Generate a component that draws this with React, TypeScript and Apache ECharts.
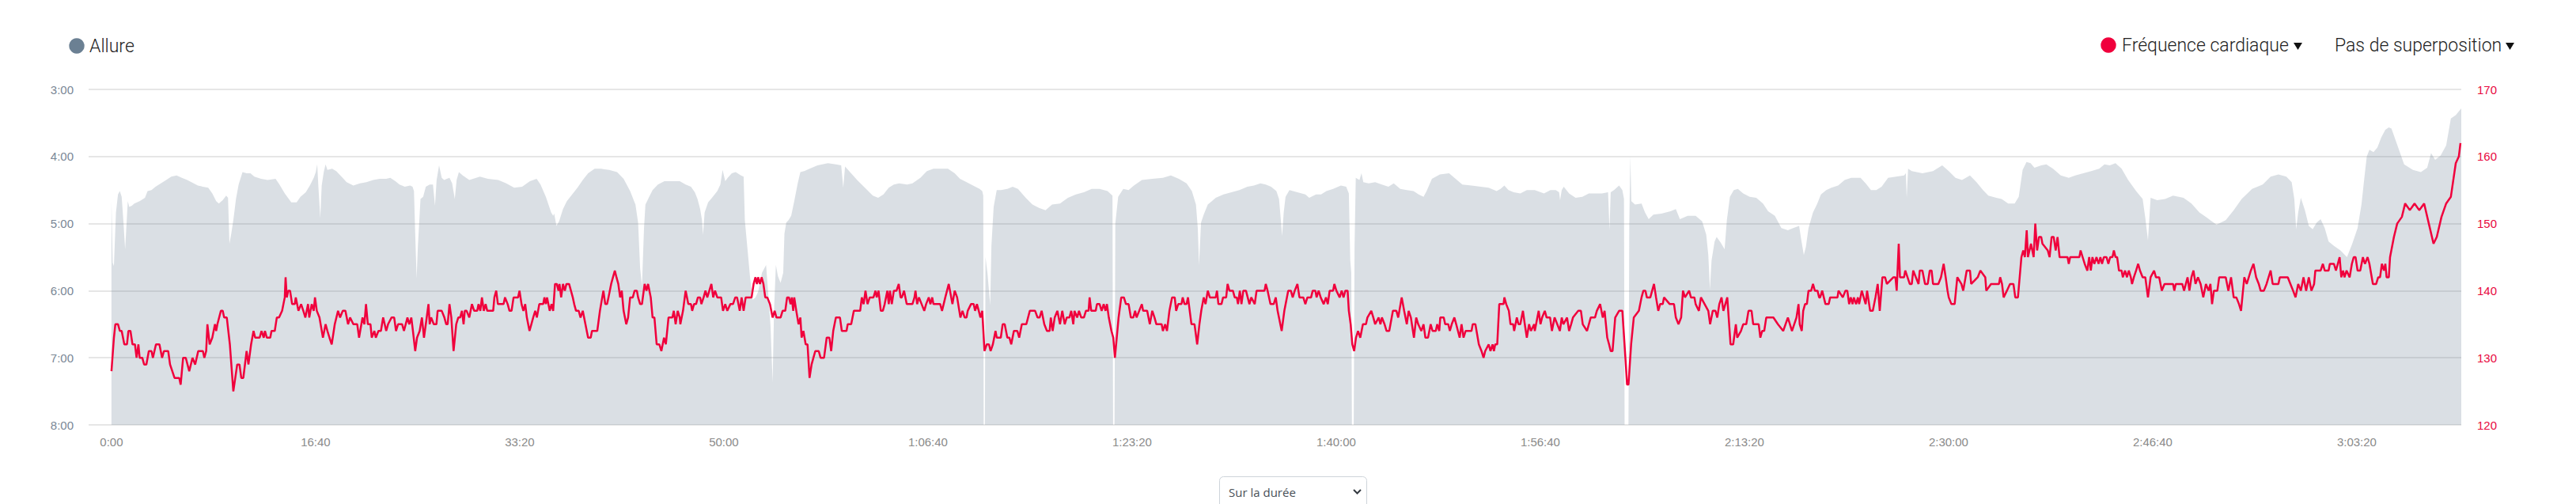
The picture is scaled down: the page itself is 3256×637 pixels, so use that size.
import React, { useEffect, useRef } from "react";
import * as echarts from "echarts";

// ---- x axis tick values (seconds) ----
const xTicks = [0, 1000, 2000, 3000, 4000, 5000, 6000, 7000, 8000, 9000, 10000, 11000];

// ---- pace (seconds per km) : [time s, pace s] ----
const pace: number[][] = [
  [0,280],[6,335],[12,338],[22,290],[32,274],[41,271],[50,276],[58,297],[67,323],[74,300],[80,280],[87,285],[100,284],[112,282],[138,280],[164,277],[177,271],[196,270],[216,267],[242,264],[268,261],[293,258],[319,257],[345,259],[371,261],[403,264],[423,266],[448,267],[474,268],[494,273],[513,280],[526,282],[545,279],[562,275],[571,277],[578,318],[587,309],[597,297],[610,278],[623,265],[642,254],[662,255],[681,255],[700,258],[733,260],[765,261],[804,260],[823,265],[849,273],[881,281],[907,281],[926,276],[952,272],[972,266],[991,259],[1001,254],[1008,247],[1014,268],[1023,295],[1030,266],[1040,254],[1049,247],[1058,252],[1081,251],[1101,253],[1127,258],[1152,263],[1185,266],[1217,264],[1249,263],[1282,261],[1314,260],[1346,260],[1366,259],[1391,262],
  [1411,265],[1437,267],[1463,266],[1475,267],[1482,271],[1488,309],[1495,349],[1501,321],[1514,278],[1527,276],[1540,267],[1559,265],[1575,265],[1585,284],[1593,261],[1605,248],[1618,259],[1630,261],[1643,260],[1656,259],[1669,264],[1682,278],[1691,261],[1702,254],[1721,257],[1753,261],[1805,258],[1844,260],[1895,261],[1934,264],[1973,268],[2012,267],[2050,262],[2083,260],[2102,265],[2128,276],[2154,290],[2164,293],[2169,291],[2180,302],[2193,298],[2212,287],[2231,280],[2257,274],[2283,268],[2309,261],[2335,255],[2367,251],[2399,251],[2438,252],[2477,254],[2509,260],[2541,271],[2567,283],[2580,299],[2590,340],[2599,356],[2609,304],[2616,283],[2632,277],[2651,270],[2677,265],[2709,262],[2748,262],[2784,262],
  [2813,265],[2839,267],[2858,272],[2871,278],[2884,287],[2893,297],[2898,310],[2906,290],[2923,281],[2942,277],[2968,271],[2983,265],[2994,252],[3007,262],[3019,259],[3039,255],[3058,254],[3084,257],[3097,258],[3103,297],[3116,323],[3129,349],[3142,368],[3155,366],[3168,361],[3187,344],[3207,337],[3220,368],[3229,392],[3239,442],[3246,378],[3255,337],[3265,347],[3278,353],[3291,344],[3297,309],[3306,299],[3317,297],[3330,293],[3345,280],[3362,264],[3375,254],[3394,253],[3420,251],[3459,248],[3510,246],[3549,247],[3575,248],[3585,268],[3594,249],[3614,253],[3653,261],[3691,268],[3730,275],[3756,277],[3782,274],[3808,268],[3833,265],[3859,264],[3898,265],[3924,264],[3963,259],[3995,253],[4027,251],[4066,251],[4098,251],[4131,255],[4157,260],[4180,262],
  [4221,266],[4253,269],[4266,271],[4271,275],[4273,480],[4279,480],[4282,330],[4292,345],[4305,373],[4311,320],[4322,285],[4337,270],[4357,270],[4389,269],[4415,267],[4441,269],[4479,277],[4512,283],[4544,286],[4576,288],[4608,283],[4647,282],[4686,277],[4725,274],[4764,272],[4802,269],[4841,269],[4880,271],[4904,275],[4907,480],[4914,480],[4918,300],[4932,276],[4957,269],[4983,270],[5009,266],[5048,261],[5099,260],[5151,259],[5190,257],[5229,260],[5267,264],[5293,271],[5313,283],[5322,304],[5328,337],[5338,299],[5351,292],[5371,283],[5410,277],[5448,274],[5487,272],[5526,270],[5565,267],
  [5597,266],[5629,264],[5655,265],[5681,267],[5707,271],[5720,278],[5729,297],[5735,311],[5743,290],[5752,276],[5771,270],[5810,272],[5849,274],[5868,277],[5901,274],[5926,274],[5952,271],[5985,269],[6023,266],[6049,267],[6062,273],[6069,333],[6074,344],[6077,480],[6086,480],[6090,321],[6096,259],[6114,261],[6124,255],[6133,263],[6159,264],[6191,263],[6224,265],[6256,267],[6282,264],[6314,269],[6346,270],[6379,271],[6404,274],[6428,276],[6443,271],[6469,260],[6508,256],[6553,255],[6585,260],[6618,265],[6663,266],[6708,267],[6747,268],[6786,271],[6805,269],[6824,266],[6844,270],[6870,272],[6902,273],[6934,270],
  [6973,270],[7018,273],[7050,270],[7076,270],[7092,272],[7097,279],[7105,270],[7115,267],[7141,273],[7173,277],[7206,276],[7238,273],[7270,273],[7302,273],[7332,272],[7339,306],[7345,272],[7361,270],[7386,266],[7402,270],[7410,278],[7413,480],[7432,480],[7436,300],[7441,240],[7446,280],[7464,283],[7496,282],[7513,290],[7531,296],[7554,292],[7593,291],[7638,289],[7664,287],[7684,296],[7722,293],[7761,293],[7793,298],[7813,310],[7823,328],[7831,359],[7839,333],[7854,316],[7864,312],[7884,317],[7903,323],[7914,297],[7929,276],[7948,270],[7968,269],[7994,273],[8026,276],[8058,277],[8091,282],[8116,289],[8149,293],[8181,304],[8213,306],[8239,304],[8268,302],[8278,314],[8291,328],[8301,321],[8314,304],[8336,290],[8355,283],
  [8375,274],[8401,270],[8426,268],[8459,266],[8491,261],[8523,259],[8569,259],[8594,264],[8620,270],[8646,270],[8672,267],[8704,259],[8743,258],[8782,257],[8791,255],[8795,277],[8802,251],[8820,253],[8872,255],[8924,253],[8969,248],[9001,253],[9034,259],[9066,261],[9105,257],[9137,263],[9169,270],[9195,275],[9234,277],[9260,278],[9292,282],[9324,282],[9344,276],[9363,252],[9382,245],[9402,246],[9421,250],[9454,248],[9479,247],[9512,251],[9550,257],[9589,259],[9621,257],[9660,255],[9699,253],[9738,251],
  [9764,247],[9790,248],[9818,246],[9848,251],[9880,261],[9919,271],[9951,278],[9964,295],[9977,315],[9990,277],[10022,279],[10061,278],[10100,275],[10151,277],[10190,282],[10229,290],[10268,295],[10313,301],[10358,297],[10397,288],[10436,278],[10487,269],[10539,265],[10578,258],[10616,256],[10655,258],[10681,263],[10694,278],[10703,305],[10713,290],[10726,277],[10746,288],[10765,302],[10784,305],[10804,299],[10823,296],[10843,304],[10862,316],[10888,320],[10920,324],[10952,330],[10978,318],[11004,304],[11023,283],[11036,261],[11049,240],[11062,234],[11082,236],[11101,232],[11120,223],[11140,216],[11157,214],
  [11170,215],[11232,247],[11275,252],[11314,254],[11345,250],[11364,237],[11384,243],[11411,239],[11438,230],[11461,206],[11485,203],[11512,197]
];

// ---- heart rate (bpm) : [time s, bpm] ----
const heartRate: number[][] = [
  [0,128],[12,133],[19,135],[32,135],[41,134],[50,134],[63,132],[76,132],[83,134],[93,134],[103,132],[115,132],[123,130],[132,132],[138,130],[151,130],[160,129],[171,129],[183,131],[196,131],[203,130],[218,132],[235,132],[248,130],[257,131],[278,131],[287,129],[309,127],[332,127],[339,126],[351,130],[364,130],[381,128],[397,130],[410,129],[425,131],[448,131],[455,130],[464,131],[470,135],[481,132],[494,133],[507,135],[513,134],[519,135],[536,137],[545,137],[552,136],[565,136],[580,132],[597,125],[616,129],[627,129],[636,127],[646,127],[662,131],[671,129],[684,132],[696,134],[704,133],[726,133],[735,134],[746,133],[752,134],[761,133],[778,133],[784,134],[800,134],[810,136],[821,136],[836,137],[849,139],[853,142],[859,139],[866,140],[875,140],[885,138],[898,138],[903,139],[916,137],[929,138],[940,137],[950,136],[963,138],[969,136],[981,138],[991,137],[997,139],[1006,137],[1019,136],[1036,133],[1049,135],[1058,134],[1068,133],[1079,132],[1094,135],[1110,137],[1120,136],[1133,137],[1146,137],[1159,135],[1169,136],[1185,135],[1204,135],[1213,133],[1230,136],[1239,135],[1247,138],[1256,135],[1269,135],[1275,133],[1288,134],[1295,133],[1308,134],[1320,134],[1331,136],[1346,134],[1355,135],[1372,136],[1385,136],
  [1394,134],[1404,135],[1424,135],[1433,134],[1450,136],[1459,135],[1469,136],[1477,134],[1488,131],[1497,133],[1510,134],[1521,136],[1531,133],[1540,135],[1553,138],[1559,135],[1566,136],[1579,135],[1592,135],[1598,137],[1618,137],[1631,136],[1640,135],[1647,135],[1656,138],[1665,136],[1676,131],[1689,135],[1699,136],[1708,136],[1717,137],[1725,135],[1731,137],[1740,137],[1753,136],[1766,138],[1777,137],[1792,137],[1798,138],[1807,137],[1815,139],[1824,137],[1833,138],[1841,137],[1870,137],[1876,139],[1885,140],[1893,138],[1921,138],[1928,139],[1941,138],[1950,137],[1960,137],[1970,139],[1992,139],[1999,140],[2009,138],[2018,137],[2027,138],[2035,136],[2048,134],[2057,135],[2066,136],[2076,137],[2084,136],[2096,138],[2115,138],[2121,139],[2128,138],[2134,139],[2147,137],[2156,138],[2164,137],[2173,141],[2182,141],[2190,140],[2195,141],[2203,139],[2212,141],[2221,140],[2229,141],[2242,141],[2251,140],[2260,139],[2267,138],[2276,137],[2289,137],[2298,136],[2309,137],[2322,135],[2335,133],[2348,133],[2354,134],[2380,134],[2393,137],[2410,140],[2419,138],[2428,138],[2435,139],[2448,141],[2457,142],[2466,143],[2474,142],[2483,141],[2492,139],[2500,140],[2509,137],[2522,135],[2531,136],[2541,139],[2554,139],[2563,140],[2574,140],[2580,139],[2590,138],[2599,138],[2612,141],[2621,140],[2629,141],[2642,139],[2651,136],[2660,136],[2671,132],[2684,132],[2694,131],[2707,133],[2716,132],[2729,136],[2748,136],[2755,137],[2764,135],[2774,137],[2784,136],
  [2787,135],[2800,137],[2813,140],[2826,138],[2839,138],[2845,137],[2854,138],[2864,138],[2873,139],[2884,139],[2890,138],[2901,139],[2910,140],[2919,139],[2929,140],[2939,141],[2948,139],[2957,140],[2968,139],[2987,139],[2996,137],[3007,138],[3017,137],[3032,138],[3045,138],[3056,139],[3065,139],[3078,137],[3087,139],[3097,137],[3107,139],[3136,139],[3146,141],[3155,142],[3162,141],[3168,142],[3177,141],[3185,142],[3194,141],[3203,139],[3213,139],[3226,138],[3239,136],[3249,137],[3258,136],[3278,136],[3288,137],[3301,137],[3310,139],[3319,139],[3327,138],[3333,139],[3340,137],[3345,139],[3355,137],[3366,135],[3375,136],[3381,133],[3390,134],[3401,132],[3410,132],[3420,127],[3430,129],[3439,130],[3448,131],[3465,131],[3474,130],[3491,130],[3504,133],[3517,133],[3526,131],[3536,134],[3549,136],[3569,136],[3578,134],[3601,134],[3607,135],[3624,135],[3637,137],[3668,137],[3676,139],[3685,138],[3694,140],[3704,138],[3715,139],[3733,139],[3743,140],[3749,139],[3758,140],[3769,137],[3779,137],[3788,138],[3801,140],[3808,138],[3814,140],[3823,138],[3833,140],[3846,140],[3857,141],[3866,139],[3872,139],[3883,140],[3896,138],[3924,138],[3934,139],[3939,140],[3947,138],[3956,139],[3969,138],[3982,137],[3991,138],[4004,139],[4012,138],[4021,139],[4027,138],[4060,138],[4069,137],[4085,139],[4102,141],[4120,138],[4131,140],[4143,139],[4159,136],[4169,137],[4180,136],
  [4189,136],[4195,137],[4211,138],[4224,138],[4231,137],[4240,138],[4249,137],[4257,136],[4266,137],[4277,131],[4288,132],[4299,132],[4307,131],[4318,132],[4331,134],[4337,133],[4357,133],[4366,135],[4376,135],[4389,133],[4399,133],[4408,132],[4421,134],[4438,134],[4447,133],[4460,135],[4482,135],[4499,137],[4525,137],[4537,136],[4547,136],[4557,137],[4570,135],[4583,134],[4596,134],[4602,136],[4611,134],[4621,136],[4634,137],[4647,135],[4658,137],[4670,135],[4680,136],[4693,136],[4702,137],[4712,135],[4718,137],[4731,136],[4740,137],[4751,136],[4764,136],[4774,137],[4787,137],[4792,139],[4800,137],[4822,137],[4828,138],[4841,138],[4851,137],[4861,138],[4870,137],[4877,138],[4886,136],[4899,134],[4908,133],[4916,130],[4925,133],[4934,136],[4947,139],[4960,139],[4970,138],[4983,138],[4994,136],[5006,136],[5015,137],[5022,136],[5035,137],[5048,138],[5054,137],[5074,137],[5087,135],[5099,137],[5110,136],[5119,135],[5145,135],[5151,134],[5162,135],[5171,134],[5183,137],[5196,139],[5209,139],[5216,137],[5226,138],[5242,138],[5248,139],[5257,138],[5267,138],[5274,139],[5291,135],[5306,135],[5319,132],[5330,135],[5339,137],[5351,139],[5360,138],[5371,140],[5381,139],[5410,139],[5416,140],[5423,138],[5438,138],[5446,139],[5461,139],[5468,141],[5477,140],[5494,140],[5503,139],[5513,139],[5519,138],[5528,140],[5536,138],[5545,140],[5558,140],[5575,138],
  [5584,139],[5601,138],[5610,140],[5649,140],[5655,141],[5664,140],[5678,138],[5694,138],[5704,139],[5713,137],[5733,134],[5746,137],[5765,140],[5778,140],[5787,139],[5797,140],[5810,141],[5820,139],[5839,139],[5849,138],[5859,139],[5877,139],[5885,140],[5898,140],[5904,139],[5914,140],[5924,139],[5939,138],[5950,139],[5959,138],[5968,140],[5985,140],[5991,141],[6001,140],[6017,139],[6027,140],[6036,139],[6045,140],[6056,140],[6062,137],[6071,135],[6079,132],[6088,131],[6097,133],[6107,134],[6118,133],[6131,135],[6146,135],[6153,136],[6172,137],[6182,136],[6191,135],[6208,136],[6217,135],[6224,136],[6237,135],[6247,134],[6260,134],[6278,137],[6295,137],[6304,136],[6321,139],[6333,137],[6346,135],[6355,137],[6366,136],[6381,133],[6392,136],[6402,135],[6417,134],[6428,135],[6437,133],[6450,133],[6463,135],[6472,134],[6488,134],[6495,135],[6505,134],[6510,136],[6527,136],[6534,135],[6549,135],[6557,134],[6566,135],[6579,136],[6588,135],[6605,133],[6614,135],[6624,133],[6634,134],[6663,134],[6669,135],[6682,135],[6699,132],[6712,131],[6722,130],[6730,131],[6747,132],[6756,131],[6766,132],[6773,131],[6779,132],[6789,132],[6799,138],[6820,138],[6824,139],[6833,138],[6846,137],[6854,135],[6867,135],[6872,134],[6885,136],[6893,135],[6902,135],[6915,137],[6924,135],[6934,133],[6945,135],[6954,134],[6970,135],
  [6973,134],[6992,137],[7001,135],[7009,136],[7022,137],[7031,136],[7048,136],[7057,134],[7070,136],[7096,134],[7105,136],[7113,135],[7131,136],[7141,134],[7151,135],[7160,136],[7186,137],[7199,137],[7208,135],[7229,134],[7247,136],[7268,136],[7277,137],[7293,138],[7306,136],[7315,137],[7328,133],[7337,132],[7345,131],[7354,131],[7367,136],[7386,137],[7402,137],[7419,129],[7425,126],[7432,126],[7445,132],[7458,136],[7483,137],[7496,139],[7505,140],[7515,140],[7522,139],[7539,139],[7548,140],[7557,141],[7567,139],[7578,137],[7587,138],[7600,138],[7606,139],[7634,138],[7655,138],[7664,136],[7677,135],[7690,136],[7699,140],[7709,139],[7729,140],[7738,139],[7755,139],[7761,138],[7777,137],[7787,139],[7823,137],[7832,135],[7845,137],[7858,137],[7867,136],[7877,138],[7888,139],[7897,137],[7916,139],[7932,132],[7945,132],[7958,135],[7965,133],[7983,134],[7994,135],[8009,135],[8020,137],[8035,137],[8043,135],[8070,135],[8078,133],[8087,134],[8097,134],[8107,136],[8142,136],[8164,135],[8190,134],[8213,136],[8233,134],[8255,136],[8265,138],[8271,135],[8281,134],[8288,137],[8297,138],[8306,138],[8314,140],[8327,140],[8336,141],[8345,140],[8358,140],[8366,139],
  [8371,139],[8381,140],[8397,138],[8413,138],[8420,139],[8433,139],[8456,139],[8461,140],[8482,139],[8495,140],[8504,140],[8513,138],[8521,139],[8530,138],[8536,139],[8547,138],[8556,139],[8562,138],[8575,140],[8594,138],[8601,140],[8616,137],[8629,137],[8642,139],[8653,141],[8663,137],[8676,142],[8689,142],[8698,141],[8730,142],[8740,142],[8746,140],[8756,147],[8762,142],[8782,142],[8788,143],[8810,141],[8820,141],[8827,143],[8853,141],[8859,143],[8872,143],[8885,141],[8898,141],[8908,143],[8917,143],[8924,141],[8950,141],[8963,142],[8976,144],[8986,142],[8995,140],[9001,139],[9014,138],[9030,138],[9043,142],[9063,141],[9072,140],[9089,143],[9105,143],[9111,141],[9143,142],[9156,143],[9180,142],[9185,140],[9208,141],[9247,141],[9253,142],[9262,141],[9270,139],[9286,140],[9301,141],[9318,141],[9327,139],[9340,139],[9357,145],[9366,146],[9374,145],[9383,149],[9389,145],[9404,147],[9417,145],[9425,150],[9434,146],[9443,148],[9454,148],[9460,147],[9486,146],[9495,145],[9505,148],[9515,148],[9525,146],[9534,148],[9544,145],[9583,145],[9589,144],[9596,145],[9641,145],[9647,146],[9657,145],[9667,144],[9680,143],[9689,145],[9697,143],[9705,145],[9714,144],[9725,145],[9735,144],[9744,145],[9752,144],[9761,145],
  [9774,145],[9783,144],[9792,145],[9803,145],[9810,146],[9818,145],[9826,145],[9835,143],[9848,143],[9854,142],[9865,143],[9874,142],[9883,143],[9893,142],[9899,141],[9908,142],[9919,143],[9929,144],[9938,143],[9951,142],[9964,142],[9977,139],[9990,142],[10007,143],[10016,142],[10032,142],[10045,140],[10058,141],[10100,141],[10106,140],[10113,141],[10145,141],[10154,140],[10171,142],[10180,140],[10190,142],[10200,143],[10210,141],[10222,142],[10235,141],[10248,139],[10261,141],[10274,140],[10283,141],[10291,138],[10300,140],[10317,140],[10326,142],[10358,142],[10371,140],[10384,142],[10397,139],[10410,139],[10423,138],[10433,137],[10449,142],[10461,141],[10481,143],[10494,144],[10507,142],[10520,141],[10529,140],[10545,140],[10558,141],[10578,143],[10588,141],[10616,141],[10623,142],[10662,142],[10675,141],[10688,140],[10700,139],[10713,141],[10726,140],[10739,142],[10752,140],[10765,142],[10778,140],[10791,141],[10797,143],[10823,143],[10834,144],[10843,143],[10862,143],[10868,144],[10888,144],[10898,143],[10907,144],[10916,145],[10924,142],[10933,143],[10940,142],[10950,143],[10965,142],[10976,144],[10985,145],[10994,145],[11004,143],[11017,143],[11030,145],[11040,144],[11053,145],[11062,144],[11079,141],[11095,141],[11105,142],[11114,142],[11123,144],[11133,143],[11140,144],[11146,142],[11157,142],
  [11163,145],[11182,148],[11198,150],[11221,151],[11237,153],[11260,152],[11283,153],[11306,152],[11330,153],[11353,150],[11376,147],[11392,148],[11415,151],[11438,153],[11461,154],[11485,159],[11500,160],[11508,162]
];

const PACE_COLOR = "#6b8093";
const HR_COLOR = "#f0003c";

function pad2(n: number) {
  return String(n).padStart(2, "0");
}
function fmtDuration(v: number) {
  const h = Math.floor(v / 3600);
  const m = Math.floor((v % 3600) / 60);
  const s = Math.round(v % 60);
  if (h > 0) return `${h}:${pad2(m)}:${pad2(s)}`;
  return `${m}:${pad2(s)}`;
}
function fmtPace(v: number) {
  return `${Math.floor(v / 60)}:${pad2(Math.round(v % 60))}`;
}

export default function App() {
  const ref = useRef<HTMLDivElement>(null);
  useEffect(() => {
    if (!ref.current) return;
    const chart = echarts.init(ref.current, undefined, { renderer: "svg" });
    const legendFont = '300 23px Roboto, "Open Sans", sans-serif';
    chart.setOption({
      animation: false,
      grid: { left: 112, right: 145, top: 113, bottom: 100 },
      xAxis: {
        type: "value",
        min: -112,
        max: 11512,
        axisLine: { show: false },
        axisTick: { show: false },
        splitLine: { show: false },
        axisLabel: {
          customValues: xTicks,
          formatter: (v: number) => fmtDuration(v),
          color: "#8a8a8a",
          fontSize: 15,
          fontFamily: '"Liberation Sans", Arial, sans-serif',
          margin: 14,
        },
      },
      yAxis: [
        {
          type: "value",
          inverse: true,
          min: 180,
          max: 480,
          interval: 60,
          position: "left",
          axisLine: { show: false },
          axisTick: { show: false },
          axisLabel: {
            formatter: (v: number) => fmtPace(v),
            color: "#7a8796",
            fontSize: 15,
            fontFamily: '"Liberation Sans", Arial, sans-serif',
            margin: 19,
          },
          splitLine: { show: true, lineStyle: { color: "#e6e6e6", width: 2 } },
        },
        {
          type: "value",
          min: 120,
          max: 170,
          interval: 10,
          position: "right",
          axisLine: { show: false },
          axisTick: { show: false },
          axisLabel: {
            color: "#e8083e",
            fontSize: 15,
            fontFamily: '"Liberation Sans", Arial, sans-serif',
            margin: 20,
          },
          splitLine: { show: false },
        },
      ],
      series: [
        {
          name: "Allure",
          type: "line",
          yAxisIndex: 0,
          data: pace,
          showSymbol: false,
          symbol: "none",
          lineStyle: { width: 0, opacity: 0 },
          areaStyle: { color: PACE_COLOR, opacity: 0.25, origin: "end" },
          z: 1,
        },
        {
          name: "Fréquence cardiaque",
          type: "line",
          yAxisIndex: 1,
          data: heartRate,
          showSymbol: false,
          symbol: "none",
          lineStyle: { color: HR_COLOR, width: 2.5 },
          z: 3,
        },
      ],
      graphic: [
        { type: "circle", shape: { cx: 97, cy: 58, r: 9.7 }, style: { fill: PACE_COLOR } },
        {
          type: "text",
          x: 113,
          y: 58,
          style: { text: "Allure", fill: "#222", font: legendFont, textVerticalAlign: "middle", verticalAlign: "middle" },
        },
        { type: "circle", shape: { cx: 2665, cy: 57, r: 9.7 }, style: { fill: HR_COLOR } },
        {
          type: "text",
          x: 2682,
          y: 57,
          style: { text: "Fréquence cardiaque", fill: "#222", font: legendFont, textVerticalAlign: "middle", verticalAlign: "middle" },
        },
        { type: "polygon", shape: { points: [[2899, 54], [2910, 54], [2904.5, 63]] }, style: { fill: "#111" } },
        {
          type: "text",
          x: 2951,
          y: 57,
          style: { text: "Pas de superposition", fill: "#222", font: legendFont, textVerticalAlign: "middle", verticalAlign: "middle" },
        },
        { type: "polygon", shape: { points: [[3167, 54], [3178, 54], [3172.5, 63]] }, style: { fill: "#111" } },
        {
          type: "rect",
          shape: { x: 1541.5, y: 602.5, width: 186, height: 50, r: 5 },
          style: { fill: "#fff", stroke: "#ced4da", lineWidth: 1 },
        },
        {
          type: "text",
          x: 1553,
          y: 622,
          style: { text: "Sur la durée", fill: "#495057", font: '15px "Open Sans", "Noto Sans", sans-serif', textVerticalAlign: "middle", verticalAlign: "middle" },
        },
        {
          type: "polyline",
          shape: { points: [[1711, 619], [1715.5, 623.5], [1720, 619]] },
          style: { stroke: "#343a40", lineWidth: 2, fill: "none" },
        },
      ],
    });
    return () => chart.dispose();
  }, []);
  return (
    <div
      ref={ref}
      style={{ position: "absolute", left: 0, top: 0, width: 3256, height: 637 }}
    />
  );
}
